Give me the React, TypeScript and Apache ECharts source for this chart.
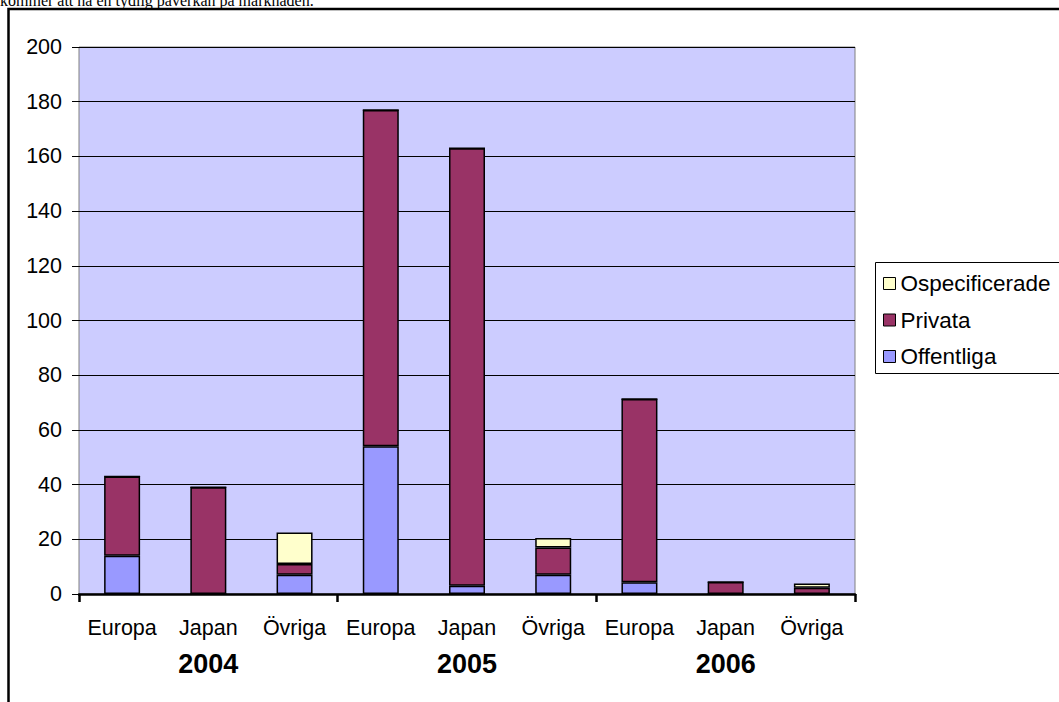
import React, { useEffect, useRef } from 'react';
import * as echarts from 'echarts';

const years = ['2004', '2005', '2006'];
const regions = ['Europa', 'Japan', 'Övriga'];
const seriesNames = ['Offentliga', 'Privata', 'Ospecificerade'];
const legendOrder = ['Ospecificerade', 'Privata', 'Offentliga'];
const offentliga = [14, 0, 7, 54, 3, 7, 4.3, 0, 0];
const privata = [29, 39, 4, 123, 160, 10, 67, 4.4, 2.3];
const ospecificerade = [0, 0, 11.5, 0, 0, 3.5, 0, 0, 1.5];
const yTicks = { min: 0, max: 200, interval: 20 };
const headerText = 'kommer att ha en tydlig påverkan på marknaden.';

const colors: Record<string, string> = {
  Offentliga: '#9999FF',
  Privata: '#993366',
  Ospecificerade: '#FFFFCC',
};

export default function App() {
  const ref = useRef<HTMLDivElement>(null);
  useEffect(() => {
    const chart = echarts.init(ref.current!, null, { renderer: 'svg' });
    const cats = years.flatMap((y) => regions.map((r) => `${y}|${r}`));
    const values = [offentliga, privata, ospecificerade];
    chart.setOption({
      animation: false,
      textStyle: { fontFamily: 'Liberation Sans', color: '#000' },
      grid: {
        left: 79,
        right: 204,
        top: 47,
        bottom: 108,
        show: true,
        backgroundColor: '#CCCCFF',
        borderColor: '#808080',
        borderWidth: 1,
      },
      xAxis: [
        {
          type: 'category',
          data: cats,
          position: 'bottom',
          axisLine: { lineStyle: { color: '#000', width: 2.5 } },
          axisTick: {
            show: true,
            interval: (i: number) => i % 3 === 0,
            length: 8,
            lineStyle: { color: '#000', width: 2.5 },
          },
          axisLabel: {
            interval: 0,
            formatter: (v: string) => v.split('|')[1],
            color: '#000',
            fontSize: 21.5,
            margin: 23,
          },
          splitLine: { show: false },
        },
        {
          type: 'category',
          data: years,
          position: 'bottom',
          axisLine: { show: false },
          axisTick: { show: false },
          axisLabel: { fontWeight: 'bold', fontSize: 27, margin: 56, color: '#000' },
          splitLine: { show: false },
        },
      ],
      yAxis: {
        type: 'value',
        min: yTicks.min,
        max: yTicks.max,
        interval: yTicks.interval,
        axisLine: { show: false },
        axisTick: { show: true, length: 7, lineStyle: { color: '#000', width: 1 } },
        axisLabel: { color: '#000', fontSize: 21.5, margin: 17 },
        splitLine: { lineStyle: { color: '#000', width: 1 } },
      },
      legend: {
        data: legendOrder,
        orient: 'vertical',
        left: 883,
        top: 272,
        padding: 0,
        itemWidth: 12,
        itemHeight: 12,
        itemGap: 13.5,
        icon: 'rect',
        textStyle: { fontSize: 22.5, color: '#000' },
        itemStyle: { borderColor: '#000', borderWidth: 1 },
      },
      series: seriesNames.map((name, i) => ({
        name,
        type: 'bar',
        stack: 'total',
        xAxisIndex: 0,
        barWidth: 36,
        data: values[i],
        itemStyle: { color: colors[name], borderColor: '#000', borderWidth: 1.5 },
      })),
      graphic: [
        {
          type: 'rect',
          silent: true,
          shape: { x: 8.5, y: 9, width: 1200, height: 900 },
          style: { fill: 'none', stroke: '#000', lineWidth: 2.5 },
        },
        {
          type: 'rect',
          silent: true,
          shape: { x: 875.5, y: 262.5, width: 300, height: 111 },
          style: { fill: 'none', stroke: '#000', lineWidth: 1 },
        },
        {
          type: 'text',
          silent: true,
          x: 0,
          y: 0.5,
          style: {
            text: headerText,
            font: '16px "Liberation Serif"',
            fill: '#000',
            verticalAlign: 'middle',
          },
        },
      ],
    });
    return () => chart.dispose();
  }, []);
  return (
    <div
      ref={ref}
      style={{ position: 'absolute', left: 0, top: 0, width: 1059, height: 702, background: '#fff' }}
    />
  );
}
